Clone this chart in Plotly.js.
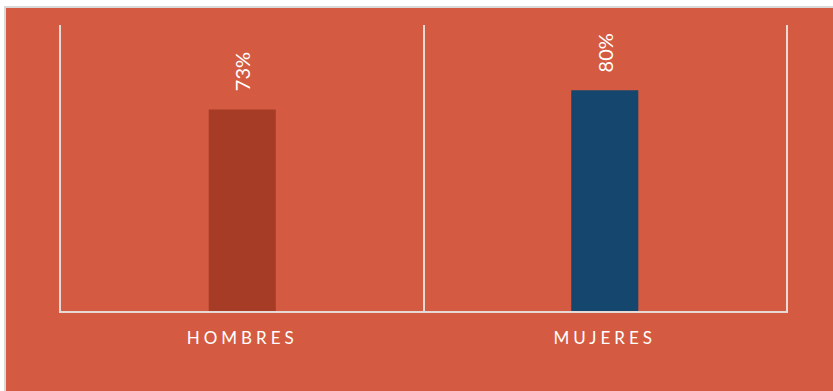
<!DOCTYPE html>
<html>
<head>
<meta charset="utf-8">
<script src="https://cdn.plot.ly/plotly-3.0.1.min.js"></script>
<style>
  html, body { margin:0; padding:0; background:#ffffff; width:833px; height:391px; overflow:hidden; }
  #frame { position:absolute; left:4px; top:6px; width:829px; height:385px; border-top:2px solid #d9d9d9; border-left:2px solid #d9d9d9; }
  #chart { position:absolute; left:0; top:0; width:827px; height:383px; }
  .xtick text { letter-spacing:4px; }
</style>
</head>
<body>
<div id="frame"><div id="chart"></div></div>
<script>
const categories = ["HOMBRES", "MUJERES"];
const values = [73, 80];
const labels = ["73%", "80%"];
const barColors = ["#A63B26", "#15476E"];

const bg = "#D45B41";
const lineCol = "#E6DAD6";

const trace = {
  type: "bar",
  x: categories,
  y: values,
  marker: { color: barColors, line: { width: 0 } },
  width: 0.185,
  hoverinfo: "skip"
};

const annotations = categories.map((c, i) => ({
  x: c, y: values[i], xref: "x", yref: "y",
  text: labels[i], showarrow: false,
  textangle: -90, yanchor: "bottom", xanchor: "center",
  yshift: 16,
  font: { family: "Lato, 'Open Sans', sans-serif", size: 20, color: "#ffffff" }
}));

const layout = {
  width: 827, height: 383,
  margin: { l: 55, r: 47, t: 17, b: 80 },
  paper_bgcolor: bg, plot_bgcolor: bg,
  showlegend: false,
  xaxis: {
    type: "category",
    range: [-0.5, 1.5],
    showline: true, linecolor: lineCol, linewidth: 2,
    showgrid: true, gridcolor: lineCol, gridwidth: 2,
    tickson: "boundaries",
    ticks: "", ticklabelstandoff: 11,
    tickfont: { family: "Lato, 'Open Sans', sans-serif", size: 17, color: "#ffffff" },
    zeroline: false, fixedrange: true
  },
  yaxis: {
    range: [0, 103.6],
    showline: true, mirror: true, linecolor: lineCol, linewidth: 2,
    showgrid: false, zeroline: false, showticklabels: false, ticks: "",
    fixedrange: true
  },
  annotations: annotations
};

Plotly.newPlot("chart", [trace], layout, { displayModeBar: false, staticPlot: true });
</script>
</body>
</html>
